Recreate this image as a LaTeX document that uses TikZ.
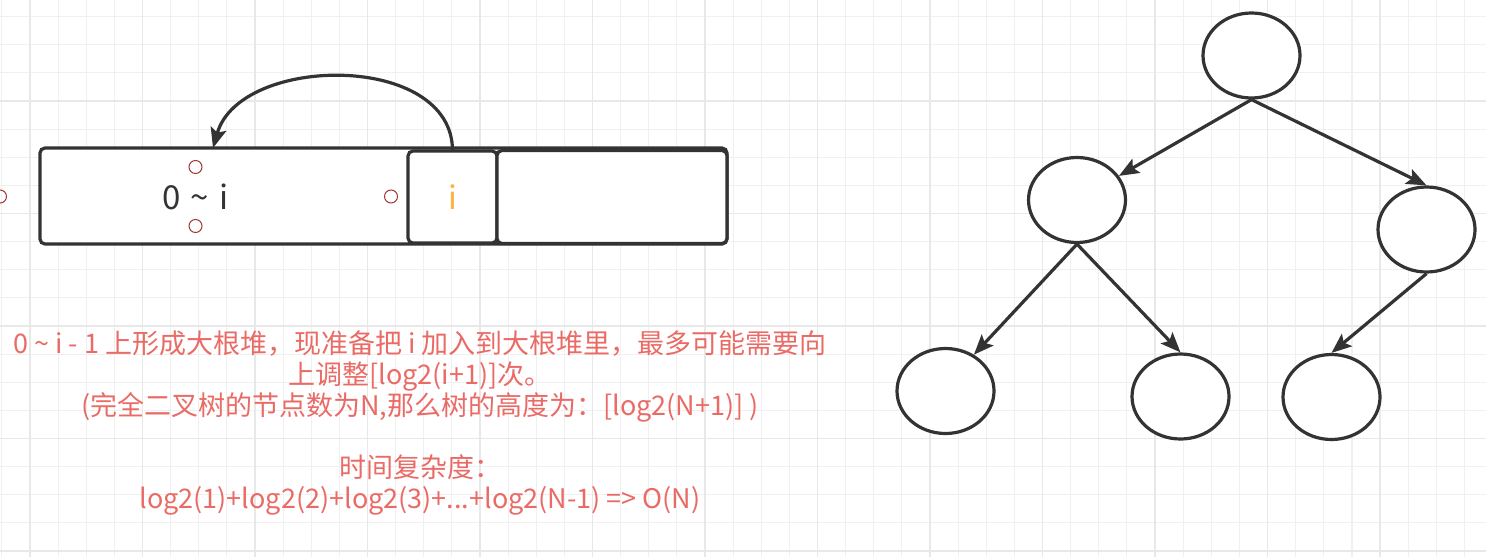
\documentclass[tikz,border=0pt]{standalone}
\usepackage{fontspec}
\setmainfont{Noto Sans CJK SC}
\usepackage{xcolor}
\usepackage{tikz}
\usetikzlibrary{arrows.meta,positioning,shapes.geometric}

\definecolor{inkgray}{HTML}{333333}
\definecolor{notered}{HTML}{EA6B66}
\definecolor{portred}{HTML}{A33A3A}
\definecolor{orangei}{HTML}{FFB13D}

\begin{document}
\begin{tikzpicture}[
    x=0.5pt, y=-0.5pt,
    gridminor/.style={draw=black!6, line width=0.6pt},
    gridmajor/.style={draw=black!9, line width=0.6pt},
    cell/.style={draw=inkgray, line width=1.6pt, rounded corners=2.5pt,
      fill=white, outer sep=0pt, inner sep=0pt},
    heapnode/.style={ellipse, draw=inkgray, line width=1.6pt, fill=white,
      minimum width=48.5pt, minimum height=42.5pt, inner sep=0pt},
    conpt/.style={circle, draw=portred, line width=0.5pt, minimum size=6.5pt,
      inner sep=0pt},
    arrow/.style={-{Stealth[length=10pt,width=8pt,inset=2pt]},
      line width=1.6pt, inkgray},
    remark/.style={text=notered, font=\fontsize{13.5pt}{15.5pt}\selectfont,
      align=center}
  ]
    \useasboundingbox (0,0) rectangle (1486,557);
    \fill[white] (0,0) rectangle (1486,557);
    \foreach \k in {0,...,52}
      \draw[gridminor] ({1.875+28.125*\k},0) -- ({1.875+28.125*\k},557);
    \foreach \k in {0,...,19}
      \draw[gridminor] (0,{16.625+28.125*\k}) -- (1486,{16.625+28.125*\k});
    \foreach \k in {0,...,12}
      \draw[gridmajor] ({30+112.5*\k},0) -- ({30+112.5*\k},557);
    \foreach \k in {0,...,4}
      \draw[gridmajor] (0,{101+112.5*\k}) -- (1486,{101+112.5*\k});

    \node[cell, minimum width=343.5pt, minimum height=48pt] (heap) at (383.5,196) {};
    \node[cell, minimum width=44.5pt, minimum height=46pt, text=orangei,
      font=\fontsize{16pt}{19pt}\selectfont] (icell) at (452.5,197) {i};
    \node[cell, minimum width=115pt, minimum height=46.5pt, right=0pt of icell] (rest) {};

    \node[minimum width=195.5pt, minimum height=29.5pt, inner sep=0pt, outer sep=0pt,
      text=inkgray, font=\fontsize{16.5pt}{19pt}\selectfont] (range) at (195.5,196.5)
      {0\hspace{5pt}\textasciitilde\hspace{5pt}i};
    \foreach \a in {north,south,east,west}
      \node[conpt] at (range.\a) {};

    \coordinate (drop) at (213,148);
    \draw[arrow] (icell.north) .. controls (453,52) and (240,54) .. (drop);

    \node[remark] (cost) at (420,422.5)
      {0 \textasciitilde{} i - 1 上形成大根堆，现准备把 i 加入到大根堆里，最多可能需要向\\
       上调整[log2(i+1)]次。\\
       (完全二叉树的节点数为N,那么树的高度为：[log2(N+1)] )\\[15.5pt]
       时间复杂度：\\
       log2(1)+log2(2)+log2(3)+...+log2(N-1) => O(N)};

    \node[heapnode] (root) at (1251.5,55.5) {};
    \node[heapnode] (lmid) at (1077,200) {};
    \node[heapnode] (rmid) at (1426.5,229.5) {};
    \node[heapnode] (lleaf) at (945.5,391) {};
    \node[heapnode] (mleaf) at (1180.5,396.5) {};
    \node[heapnode] (rleaf) at (1331.5,397) {};

    \draw[arrow] (root.south) -- (lmid);
    \draw[arrow] (root.south) -- (rmid.north);
    \draw[arrow] (lmid.south) -- (lleaf.52);
    \draw[arrow] (lmid.south) -- (mleaf.north);
    \draw[arrow] (rmid.south) -- (rleaf.north);
  \end{tikzpicture}
\end{document}
